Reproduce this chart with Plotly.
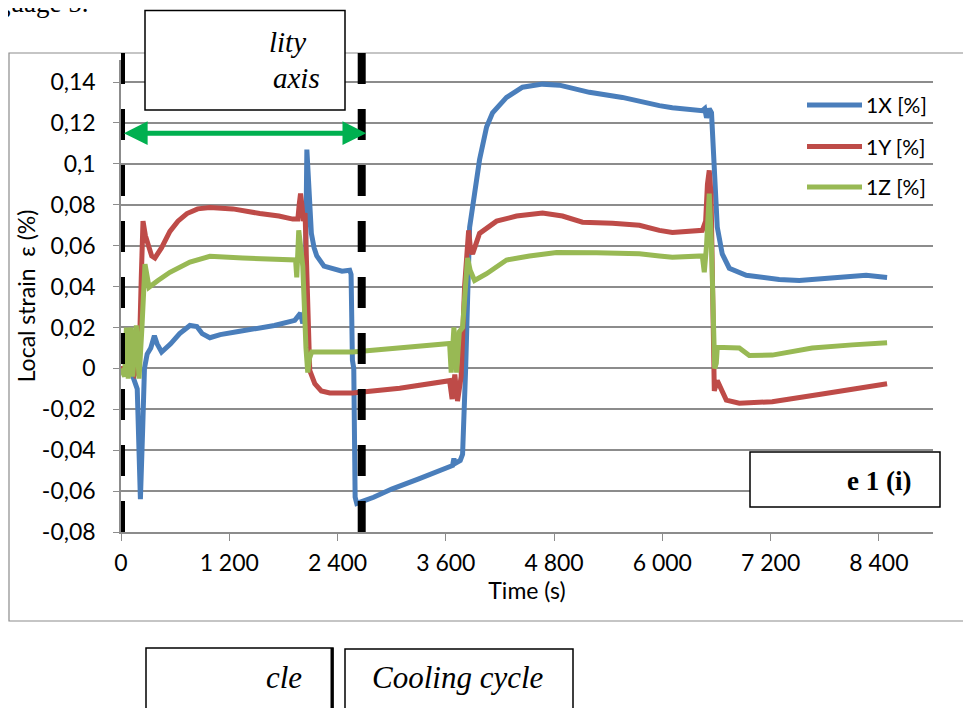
import plotly.graph_objects as go

# ---------------- data ----------------
time_1x = [0, 100, 180, 215, 240, 260, 290, 330, 370, 400, 450, 550, 650, 764, 841, 900, 985,
           1100, 1300, 1500, 1700, 1926, 1990, 2015, 2040, 2060, 2075, 2090, 2110, 2140, 2170,
           2250, 2347, 2450, 2535, 2550, 2565, 2580, 2595, 2613, 2800, 3000, 3300, 3500, 3675,
           3690, 3700, 3760, 3786, 3820, 3841, 3864, 3919, 3974, 4052, 4118, 4273, 4450, 4672,
           4860, 5192, 5557, 5967, 6111, 6443, 6470, 6490, 6520, 6545, 6598, 6609, 6664, 6742,
           6930, 7295, 7517, 7816, 8259, 8491]
strain_1x = [0.0, 0.0, -0.01, -0.064, -0.03, 0.0, 0.007, 0.01, 0.016, 0.012, 0.008, 0.012, 0.017,
             0.021, 0.0205, 0.017, 0.015, 0.0165, 0.018, 0.0195, 0.021, 0.0235, 0.027, 0.022, 0.03,
             0.107, 0.095, 0.078, 0.066, 0.059, 0.055, 0.05, 0.049, 0.0475, 0.048, 0.046, 0.004,
             0.0, -0.063, -0.066, -0.063, -0.059, -0.054, -0.0505, -0.0475, -0.044, -0.0465,
             -0.045, -0.042, 0.0, 0.0445, 0.069, 0.0855, 0.102, 0.118, 0.125, 0.1325, 0.1375,
             0.139, 0.1385, 0.135, 0.1325, 0.1285, 0.1275, 0.126, 0.127, 0.1225, 0.127, 0.125,
             0.075, 0.069, 0.056, 0.049, 0.0455, 0.0435, 0.043, 0.044, 0.0455, 0.0445]

time_1y = [0, 100, 150, 200, 225, 244, 270, 299, 340, 376, 450, 542, 631, 731, 850, 985, 1240,
           1539, 1750, 1904, 1960, 1975, 1990, 2005, 2020, 2040, 2059, 2092, 2148, 2220, 2314,
           2568, 3089, 3642, 3670, 3700, 3730, 3770, 3808, 3853, 3875, 3897, 3974, 4163, 4384,
           4672, 4893, 5115, 5447, 5746, 5967, 6111, 6443, 6480, 6500, 6520, 6540, 6560, 6576,
           6609, 6709, 6853, 7218, 7772, 8104, 8491]
strain_1y = [0.0, 0.0, -0.003, 0.002, 0.045, 0.072, 0.065, 0.06, 0.055, 0.054, 0.059, 0.067,
             0.072, 0.0757, 0.078, 0.0787, 0.078, 0.0757, 0.0745, 0.073, 0.073, 0.08, 0.0855,
             0.08, 0.072, 0.076, 0.048, -0.001, -0.0075, -0.011, -0.012, -0.012, -0.0097, -0.006,
             -0.015, -0.003, -0.016, -0.004, 0.04, 0.0675, 0.058, 0.056, 0.066, 0.072, 0.0745,
             0.076, 0.0745, 0.0715, 0.071, 0.07, 0.0675, 0.0665, 0.0675, 0.072, 0.09, 0.0968,
             0.085, 0.03, -0.011, -0.006, -0.0155, -0.017, -0.0163, -0.0125, -0.01, -0.0075]

time_1z = [0, 40, 60, 80, 110, 130, 170, 200, 232, 266, 290, 310, 410, 542, 764, 985, 1350,
           1650, 1904, 1935, 1948, 1960, 1970, 1990, 2015, 2050, 2070, 2090, 2114, 2568, 3089,
           3642, 3660, 3690, 3720, 3750, 3786, 3841, 3870, 3919, 4052, 4273, 4528, 4827, 5270,
           5746, 5967, 6111, 6443, 6465, 6490, 6520, 6545, 6580, 6598, 6609, 6853, 6900, 6964,
           7218, 7661, 8104, 8491]
strain_1z = [0.0, -0.004, 0.02, -0.005, 0.02, -0.004, 0.021, -0.005, 0.02, 0.051, 0.045, 0.0397,
             0.043, 0.047, 0.052, 0.0548, 0.054, 0.0533, 0.053, 0.053, 0.0445, 0.06, 0.0675,
             0.06, 0.05, 0.01, -0.002, 0.005, 0.008, 0.008, 0.01, 0.0122, -0.002, 0.02, -0.002,
             0.018, 0.02, 0.054, 0.048, 0.043, 0.0463, 0.053, 0.055, 0.0567, 0.0565, 0.056,
             0.055, 0.0543, 0.055, 0.047, 0.06, 0.0855, 0.06, 0.0, 0.0025, 0.0103, 0.01, 0.0085,
             0.0063, 0.0065, 0.01, 0.0115, 0.0125]

series_names = ["1X [%]", "1Y [%]", "1Z [%]"]
x_tick_vals = [0, 1200, 2400, 3600, 4800, 6000, 7200, 8400]
x_tick_text = ["0", "1 200", "2 400", "3 600", "4 800", "6 000", "7 200", "8 400"]
y_tick_vals = [-0.08, -0.06, -0.04, -0.02, 0, 0.02, 0.04, 0.06, 0.08, 0.10, 0.12, 0.14]
y_tick_text = ["-0,08", "-0,06", "-0,04", "-0,02", "0", "0,02", "0,04", "0,06", "0,08",
               "0,1", "0,12", "0,14"]
window_start_s = 0
window_end_s = 2668
arrow_level = 0.115

# ---------------- styling ----------------
W, H = 971, 708
OFF = 8                      # page body margin of the browser
PL, PR, PT, PB = 121, 933, 60, 532   # plot area on screen (px)
ML, MT = PL - OFF, PT - OFF
PW, PH = PR - PL, PB - PT
MR, MB = W - ML - PW, H - MT - PH
colors = ["#4A7EBB", "#BE4B48", "#98B954"]
grid = "#8c8c8c"
sans = "Lato"
serif = "Liberation Serif"


def px_x(p):
    return (p - PL) / PW


def px_y(p):
    return (PB - p) / PH


fig = go.Figure()
for t, v, name, c in zip([time_1x, time_1y, time_1z], [strain_1x, strain_1y, strain_1z],
                         series_names, colors):
    fig.add_trace(go.Scatter(x=t, y=v, mode="lines", name=name,
                             line=dict(color=c, width=5), showlegend=False))

shapes = []
# chart frame
shapes.append(dict(type="rect", xref="paper", yref="paper", x0=px_x(9), x1=px_x(1040),
                   y0=px_y(621), y1=px_y(53), line=dict(color=grid, width=1.2),
                   fillcolor="rgba(0,0,0,0)", layer="below"))
# black dashed window lines
for xv in [window_start_s, window_end_s]:
    shapes.append(dict(type="line", xref="x", yref="paper", x0=xv, x1=xv,
                       y0=px_y(53), y1=px_y(533),
                       line=dict(color="black", width=8, dash="31px,25px"), layer="above"))
# text boxes
box_line = dict(color="black", width=1.5)
shapes.append(dict(type="rect", xref="paper", yref="paper", x0=px_x(145), x1=px_x(345),
                   y0=px_y(110), y1=px_y(10.5), line=box_line, fillcolor="white", layer="above"))
shapes.append(dict(type="rect", xref="paper", yref="paper", x0=px_x(750), x1=px_x(940),
                   y0=px_y(507), y1=px_y(452), line=box_line, fillcolor="white", layer="above"))
shapes.append(dict(type="rect", xref="paper", yref="paper", x0=px_x(146), x1=px_x(333),
                   y0=px_y(730), y1=px_y(648), line=box_line,
                   fillcolor="white", layer="above"))
shapes.append(dict(type="line", xref="paper", yref="paper", x0=px_x(332), x1=px_x(332),
                   y0=px_y(730), y1=px_y(648), line=dict(color="black", width=3),
                   layer="above"))
shapes.append(dict(type="rect", xref="paper", yref="paper", x0=px_x(345), x1=px_x(573),
                   y0=px_y(730), y1=px_y(649), line=box_line, fillcolor="white", layer="above"))
# custom legend samples
legend_y = [105, 146.5, 187]
for c, ly in zip(colors, legend_y):
    shapes.append(dict(type="line", xref="paper", yref="paper", x0=px_x(807), x1=px_x(862),
                       y0=px_y(ly), y1=px_y(ly), line=dict(color=c, width=5), layer="above"))

annotations = []
for name, ly in zip(series_names, legend_y):
    annotations.append(dict(xref="paper", yref="paper", x=px_x(864), y=px_y(ly), text=name,
                            showarrow=False, xanchor="left", yanchor="middle",
                            font=dict(family=sans, size=21, color="black")))
# green double arrow
annotations.append(dict(x=window_end_s + 50, y=arrow_level, ax=window_start_s + 15,
                        ay=arrow_level, xref="x", yref="y", axref="x", ayref="y", text="",
                        showarrow=True, arrowhead=2, arrowside="end+start", arrowsize=0.95,
                        arrowwidth=5, arrowcolor="#00B050"))
# document text fragments
annotations += [
    dict(xref="paper", yref="paper", x=px_x(308), y=px_y(42), text="<i>lity</i>",
         showarrow=False, xanchor="right", yanchor="middle",
         font=dict(family=serif, size=29, color="black")),
    dict(xref="paper", yref="paper", x=px_x(322), y=px_y(78), text="<i>axis</i>",
         showarrow=False, xanchor="right", yanchor="middle",
         font=dict(family=serif, size=29, color="black")),
    dict(xref="paper", yref="paper", x=px_x(913), y=px_y(481), text="<b>e 1 (i)</b>",
         showarrow=False, xanchor="right", yanchor="middle",
         font=dict(family=serif, size=27, color="black")),
    dict(xref="paper", yref="paper", x=px_x(304), y=px_y(677), text="<i>cle</i>",
         showarrow=False, xanchor="right", yanchor="middle",
         font=dict(family=serif, size=31, color="black")),
    dict(xref="paper", yref="paper", x=px_x(458), y=px_y(677), text="<i>Cooling cycle</i>",
         showarrow=False, xanchor="center", yanchor="middle",
         font=dict(family=serif, size=31, color="black")),
    dict(xref="paper", yref="paper", x=px_x(90), y=px_y(3), text="guage 5.",
         showarrow=False, xanchor="right", yanchor="middle",
         font=dict(family=serif, size=27, color="black")),
]

axis_font = dict(family=sans, size=23, color="black")
fig.update_layout(
    width=W, height=H,
    margin=dict(l=ML, r=MR, t=MT, b=MB, pad=0, autoexpand=False),
    paper_bgcolor="white", plot_bgcolor="white",
    font=dict(family=sans, size=21, color="black"),
    showlegend=False,
    shapes=shapes, annotations=annotations,
    xaxis=dict(range=[0, 9000], tickvals=x_tick_vals, ticktext=x_tick_text,
               automargin=False, tickfont=axis_font,
               showgrid=False, zeroline=False, showline=True, linecolor=grid, linewidth=1.5,
               ticks="outside", ticklen=7, tickcolor=grid, tickwidth=1.3,
               ticklabelstandoff=3,
               title=dict(text="Time (s)", standoff=6, font=axis_font)),
    xaxis2=dict(overlaying="x", matches="x", anchor="y", side="bottom",
                tickvals=x_tick_vals, showticklabels=False, ticks="inside", ticklen=7,
                tickcolor=grid, tickwidth=1.3, showgrid=False, zeroline=False,
                showline=False, automargin=False),
    yaxis=dict(range=[-0.08, 0.1508], tickvals=y_tick_vals, ticktext=y_tick_text,
               automargin=False, tickfont=axis_font,
               showgrid=True, gridcolor=grid, gridwidth=1.5, zeroline=False,
               showline=True, linecolor=grid, linewidth=1.5,
               ticks="outside", ticklen=6, tickcolor=grid, ticklabelstandoff=13,
               title=dict(text="Local strain\u00a0 ε (%)", standoff=0, font=axis_font)),
)

fig.write_html("out.html")
